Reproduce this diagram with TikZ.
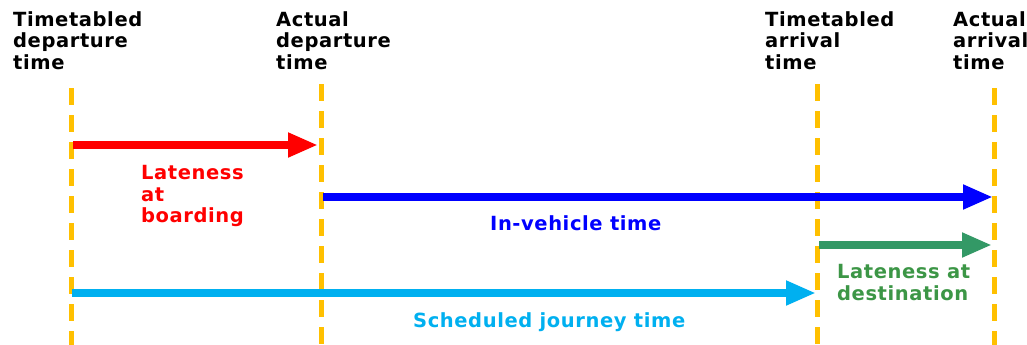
\documentclass[tikz,border=0pt]{standalone}
\usepackage{fontspec}
\setmainfont{DejaVu Sans}[LetterSpace=3]
\usetikzlibrary{arrows.meta}
\definecolor{gold}{HTML}{FFC000}
\definecolor{cred}{HTML}{FF0000}
\definecolor{cblue}{HTML}{0000FF}
\definecolor{cgreen}{RGB}{51,153,102}
\definecolor{ctxtgreen}{RGB}{60,150,70}
\definecolor{ccyan}{HTML}{00B0F0}
\begin{document}
\begin{tikzpicture}[x=1pt,y=-1pt,
  guide/.style={draw=gold,line width=5pt,dash pattern=on 17pt off 10pt},
  bar/.style={line width=8pt,-{Triangle[length=30pt,width=23pt]}},
  lbl/.style={inner sep=0pt,anchor=north west,align=left,font=\fontsize{19.5}{21.7}\selectfont\bfseries},
  ]
\useasboundingbox[fill=white] (0,0) rectangle (1027,345);
% guides
\coordinate (g1t) at (71,88);   \coordinate (g1b) at (71,345);
\coordinate (g2t) at (321,84);  \coordinate (g2b) at (321,345);
\coordinate (g3t) at (817,84);  \coordinate (g3b) at (817,345);
\coordinate (g4t) at (994,88);  \coordinate (g4b) at (994,345);
\draw[guide] (g1t) -- (g1b);
\draw[guide] (g2t) -- (g2b);
\draw[guide] (g3t) -- (g3b);
\draw[guide] (g4t) -- (g4b);
% headings
\node[lbl] (h1) at (13,11) {Timetabled\\departure\\time};
\node[lbl] (h2) at (276,11) {Actual\\departure\\time};
\node[lbl] (h3) at (765,11) {Timetabled\\arrival\\time};
\node[lbl] (h4) at (953,11) {Actual\\arrival\\time};
% arrows
\coordinate (r1) at (73,145);  \coordinate (r2) at (318,145);
\coordinate (b1) at (323,197); \coordinate (b2) at (993,197);
\coordinate (gr1) at (819,245); \coordinate (gr2) at (992,245);
\coordinate (c1) at (72,293);  \coordinate (c2) at (816,293);
\draw[bar,cred] (r1) -- (r2);
\draw[bar,cblue] (b1) -- (b2);
\draw[bar,cgreen] (gr1) -- (gr2);
\draw[bar,ccyan] (c1) -- (c2);
% labels
\node[lbl,text=cred] (l1) at (141,165) {Lateness\\at\\boarding};
\node[lbl,text=cblue] (l2) at (490,215) {In-vehicle time};
\node[lbl,text=ctxtgreen] (l3) at (837,264) {Lateness at\\destination};
\node[lbl,text=ccyan] (l4) at (413,312) {Scheduled journey time};
\end{tikzpicture}
\end{document}
